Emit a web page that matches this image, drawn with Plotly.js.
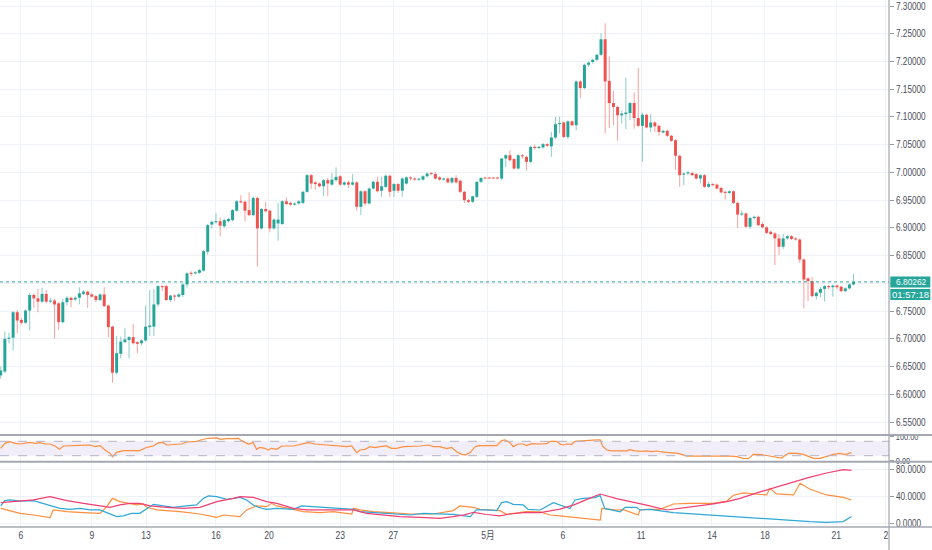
<!DOCTYPE html>
<html>
<head>
<meta charset="utf-8">
<script src="https://cdn.plot.ly/plotly-3.0.1.min.js"></script>
<style>
html,body{margin:0;padding:0;background:#fff;}
#chart{width:932px;height:550px;}
</style>
</head>
<body>
<div id="chart"></div>
<script>
// ---- 4H candles ----
const opens = [
6.634,6.641,6.700,6.702,6.748,6.734,6.729,6.751,6.779,6.773,
6.767,6.781,6.767,6.769,6.764,6.730,6.766,6.774,6.771,6.774,
6.781,6.785,6.780,6.777,6.770,6.780,6.760,6.722,6.639,6.673,
6.694,6.698,6.703,6.694,6.692,6.697,6.721,6.722,6.762,6.795,
6.795,6.770,6.778,6.776,6.779,6.798,6.819,6.818,6.819,6.823,
6.857,6.906,6.910,6.912,6.903,6.912,6.914,6.931,6.948,6.947,
6.932,6.923,6.954,6.899,6.934,6.931,6.899,6.908,6.907,6.948,
6.945,6.942,6.944,6.945,6.965,6.995,6.982,6.980,6.975,6.986,
6.978,6.986,6.993,6.978,6.982,6.978,6.982,6.938,6.966,6.944,
6.971,6.983,6.967,6.974,6.994,6.967,6.979,6.967,6.980,6.991,
6.989,6.987,6.987,6.993,6.998,6.997,6.991,6.987,6.989,6.982,
6.990,6.985,6.965,6.950,6.947,6.956,6.983,6.990,6.990,6.990,
6.990,6.989,7.025,7.031,7.024,7.007,7.031,7.028,7.019,7.046,
7.044,7.045,7.051,7.047,7.063,7.087,7.090,7.064,7.092,7.085,
7.164,7.152,7.194,7.199,7.203,7.212,7.240,7.165,7.125,7.118,
7.103,7.105,7.107,7.125,7.098,7.084,7.104,7.081,7.090,7.084,
7.072,7.075,7.066,7.058,7.030,6.996,6.998,6.999,6.997,6.989,
6.995,6.974,6.979,6.978,6.972,6.965,6.963,6.966,6.945,6.924,
6.926,6.902,6.918,6.920,6.907,6.901,6.893,6.890,6.881,6.866,
6.881,6.885,6.881,6.879,6.843,6.809,6.804,6.777,6.783,6.790,
6.795,6.793,6.796,6.794,6.786,6.791,6.798];
const highs = [
6.650,6.713,6.711,6.750,6.752,6.738,6.753,6.783,6.782,6.790,
6.792,6.788,6.774,6.772,6.766,6.772,6.777,6.776,6.777,6.793,
6.788,6.787,6.782,6.779,6.782,6.793,6.762,6.724,6.705,6.704,
6.719,6.705,6.727,6.696,6.699,6.760,6.788,6.790,6.797,6.797,
6.797,6.779,6.780,6.782,6.800,6.820,6.822,6.822,6.826,6.860,
6.907,6.913,6.926,6.919,6.916,6.918,6.934,6.950,6.959,6.949,
6.964,6.956,6.956,6.936,6.947,6.933,6.917,6.945,6.950,6.955,
6.947,6.946,6.950,6.967,6.997,6.997,6.984,6.982,6.988,6.990,
6.999,7.009,6.995,6.984,6.985,6.997,6.984,6.968,6.968,6.973,
6.985,6.992,6.992,6.996,6.996,6.981,6.981,6.991,6.993,6.993,
6.991,6.990,6.995,7.000,7.000,7.001,6.993,6.990,6.991,6.992,
6.995,6.987,6.967,6.952,6.958,6.984,6.991,6.992,6.991,6.991,
6.991,7.026,7.033,7.040,7.026,7.033,7.033,7.030,7.048,7.050,
7.048,7.053,7.053,7.073,7.100,7.100,7.092,7.094,7.094,7.166,
7.166,7.196,7.200,7.205,7.214,7.251,7.269,7.209,7.147,7.120,
7.112,7.171,7.127,7.144,7.188,7.108,7.106,7.105,7.092,7.086,
7.077,7.077,7.068,7.060,7.032,7.000,7.003,7.001,6.999,6.997,
6.997,6.983,6.981,6.980,6.974,6.967,6.967,6.968,6.947,6.931,
6.928,6.920,6.922,6.922,6.911,6.903,6.895,6.892,6.889,6.889,
6.887,6.887,6.883,6.881,6.845,6.811,6.811,6.785,6.793,6.797,
6.797,6.798,6.798,6.796,6.793,6.800,6.817];
const lows = [
6.628,6.638,6.692,6.679,6.710,6.726,6.727,6.715,6.756,6.748,
6.765,6.764,6.765,6.700,6.716,6.728,6.760,6.757,6.768,6.762,
6.779,6.756,6.774,6.766,6.768,6.757,6.703,6.621,6.636,6.665,
6.692,6.665,6.690,6.674,6.688,6.695,6.705,6.705,6.758,6.786,
6.768,6.766,6.768,6.774,6.775,6.792,6.813,6.816,6.817,6.821,
6.852,6.899,6.908,6.885,6.900,6.910,6.912,6.929,6.944,6.912,
6.921,6.921,6.830,6.897,6.928,6.892,6.897,6.877,6.905,6.941,
6.940,6.940,6.942,6.943,6.963,6.970,6.969,6.973,6.957,6.957,
6.976,6.984,6.976,6.976,6.972,6.976,6.931,6.923,6.940,6.942,
6.969,6.964,6.956,6.972,6.956,6.956,6.963,6.956,6.978,6.985,
6.985,6.985,6.985,6.991,6.995,6.987,6.985,6.985,6.980,6.980,
6.980,6.963,6.945,6.945,6.945,6.954,6.981,6.988,6.988,6.988,
6.988,6.986,7.010,7.020,7.005,7.005,7.025,7.003,7.017,7.041,
7.042,7.043,7.046,7.028,7.060,7.070,7.062,7.060,7.083,7.076,
7.134,7.150,7.190,7.196,7.201,7.210,7.070,7.080,7.085,7.057,
7.088,7.078,7.094,7.079,7.082,7.019,7.079,7.072,7.073,7.066,
7.070,7.064,7.055,7.004,6.974,6.977,6.995,6.993,6.987,6.980,
6.972,6.972,6.975,6.969,6.962,6.951,6.961,6.943,6.900,6.922,
6.900,6.898,6.915,6.903,6.899,6.889,6.887,6.833,6.851,6.862,
6.879,6.878,6.877,6.837,6.755,6.768,6.775,6.771,6.775,6.767,
6.789,6.776,6.790,6.784,6.784,6.789,6.796];
const closes = [
6.643,6.700,6.702,6.748,6.733,6.729,6.751,6.779,6.773,6.767,
6.781,6.767,6.769,6.762,6.730,6.766,6.774,6.770,6.774,6.782,
6.785,6.779,6.776,6.770,6.780,6.759,6.721,6.639,6.674,6.695,
6.699,6.703,6.692,6.691,6.697,6.722,6.724,6.762,6.795,6.793,
6.770,6.778,6.776,6.780,6.798,6.818,6.817,6.820,6.824,6.858,
6.905,6.911,6.912,6.904,6.914,6.916,6.932,6.948,6.946,6.931,
6.923,6.954,6.899,6.934,6.930,6.899,6.915,6.915,6.948,6.943,
6.942,6.944,6.948,6.965,6.995,6.980,6.979,6.975,6.986,6.980,
6.987,6.992,6.978,6.982,6.978,6.982,6.938,6.966,6.944,6.971,
6.983,6.966,6.975,6.994,6.965,6.979,6.967,6.989,6.991,6.989,
6.987,6.988,6.993,6.998,6.997,6.989,6.987,6.989,6.982,6.990,
6.982,6.965,6.950,6.947,6.957,6.983,6.990,6.989,6.989,6.989,
6.989,7.025,7.031,7.022,7.007,7.031,7.029,7.019,7.046,7.044,
7.046,7.051,7.048,7.063,7.087,7.089,7.064,7.092,7.085,7.164,
7.152,7.194,7.198,7.203,7.212,7.240,7.164,7.125,7.118,7.103,
7.106,7.108,7.125,7.098,7.084,7.104,7.081,7.090,7.083,7.073,
7.075,7.066,7.057,7.030,6.995,6.998,7.000,6.995,6.989,6.995,
6.974,6.979,6.977,6.971,6.964,6.963,6.966,6.945,6.924,6.926,
6.902,6.918,6.920,6.905,6.901,6.891,6.889,6.881,6.866,6.881,
6.885,6.880,6.879,6.843,6.807,6.804,6.777,6.783,6.790,6.795,
6.793,6.796,6.793,6.786,6.791,6.798,6.80262];

// ---- axis labels ----
const dayTickIdx  = [4.9, 22, 35.1, 52, 64.8, 82, 94.8, 117.7, 135.8, 154.7, 171.8, 184.6, 201.8, 213.8];
const dayTickText = ['6','9','13','16','20','23','27','5月','6','11','14','18','21','2'];
const priceTicks  = [6.55,6.60,6.65,6.70,6.75,6.80,6.85,6.90,6.95,7.00,7.05,7.10,7.15,7.20,7.25,7.30];
const stochTicks  = [0, 100];
const dmiTicks    = [0, 40, 80];
const timerText = '01:57:18';

// ---- Stoch RSI (K) ----
const stochX = [0,1,2.2,3.5,4.7,5.9,7.1,8.3,9.5,10.7,11.9,13.1,14.2,15.1,16.7,19.2,21.6,22.8,24,25.2,26.4,27,28,29.6,31.6,33.6,35.3,36.9,38.1,39.3,40.1,42.5,43.7,44.9,47.3,49,50.2,52.2,53,54.6,56.2,57.4,58.2,59.8,61,61.8,62.6,63.8,64.6,65.4,66.7,67.9,70.7,73.1,74.3,75.9,78.3,79.9,82,83.6,84.8,86,86.8,88,89.2,90.4,91.6,93.2,94.4,95.6,97.3,98.9,101.3,103.3,104.5,106.1,107.7,108.9,110.1,111.3,112.3,113.4,114.6,115.4,117.4,119.8,121,121.8,123,123.8,125,126.2,127,128.3,130.3,131.9,132.7,134.3,135.1,135.9,136.7,137.9,138.7,139.9,141.1,143.1,144.4,144.8,145.4,146.4,147.6,149.6,151.2,152,153.2,154.8,156,157.2,158.4,160,161.7,163.7,165.7,167.3,168.9,170.5,172.1,174.5,176.2,177.8,179.4,180.6,181.8,183.8,185.4,187,188.6,190.2,192.3,193.9,195.5,196.3,197.9,199.5,201.1,202.7,203.9,205.5];
const stochK = [50.7,71.6,78.6,71.6,68.8,71.6,75.8,71.6,74.4,68.8,68.8,60.5,46.5,60.5,60.5,63.3,64.6,57.7,61.9,43.7,29.8,15.8,34,41,41,41,55,60.5,74.4,74.4,64.6,66,68.8,77.2,80,88.4,92.6,94,88.4,91.2,92.6,92.6,82.8,68.8,74.4,46.5,55,50.7,43.7,50.7,46.5,60.5,60.5,68.8,74.4,68.8,66,64.6,60.5,57.7,60.5,32.6,43.7,46.5,57.7,53.5,57.7,60.5,50.7,50.7,57.7,57.7,60.5,64.6,57.7,57.7,49.3,55,36.7,25.6,23.5,33,57.7,61.9,61.9,61.9,82.8,85.6,74.4,57.7,68.8,68.8,61.9,70.2,68.8,70,80,80,68,64.6,68.8,67.5,80,82,84,85,85.6,85.6,60,43.7,40,40,40,45.4,40,38,40,36.7,39.5,35.3,32,29.8,18.6,18.6,18.6,21.4,18.6,21.4,18.6,15.8,8.8,7.4,25.6,24.2,19.9,17.2,10.2,29.8,29.8,25.6,13,8.8,8.8,18.6,25.6,29.8,24.2,32.6,43.7];

// ---- DMI / ADX ----
const adxX = [0,4.7,7.9,11.9,16,20,24,26.4,28.8,31.2,33.6,36.1,40.1,44.1,48.1,52.2,56.2,57.8,61,64.2,66.7,70.7,73.9,80.3,85.2,88.4,92.4,96.4,101.3,106.1,109.3,112,114.2,117.4,120.6,123,127,130.3,135.1,138.3,141.5,144.8,148.8,152.8,156,160.9,163.3,167.3,171.3,175.4,178.6,183.4,187.4,191.5,195.5,199.5,203.5,205.5];
const adxV = [30.6,33,34.6,39.5,33.6,29.6,25.7,23.7,27.2,29.6,29.6,25.7,23.7,22.2,23.7,32.1,37,39.5,38.5,32.1,29.6,22.2,19.8,19.8,19.8,14.8,12.3,9.9,8.9,7.4,9.9,12.5,16.3,13,11,13.8,16.3,15.7,21,27,35,43.4,36.5,31.5,27,19.7,21.5,24.5,28,32,37,46.5,54,61.5,68.5,74.5,79.5,78.5];
const plusDiX = [0,1,2.2,4.7,7.9,10.3,12.7,14.3,16.7,19.2,21.6,24,25.6,28,29.6,31.6,33.6,35.3,36.9,39.3,41.7,44.9,47.3,49,50.2,52.2,54.6,56.2,57.8,59.4,61,62.2,64.2,66.7,70.7,72.7,75.5,78.7,82.8,85.2,86.8,90,94,98.9,102.1,105.3,109.3,113.4,114.9,117.4,119.8,121,122.2,123.8,126.2,127.4,130.3,133.5,135.9,137.5,138.7,140.7,143.5,144.8,145.9,149.6,150.8,153.6,154.4,156.8,162.5,166.5,170.5,174.5,178.6,181.8,185.8,189.8,195.5,199.5,203.5,205.5];
const plusDiV = [25.7,33.6,34.6,33,33.6,29.6,25.7,22.2,20.7,22.2,19.8,19.8,15.8,9.9,10.9,14.8,14.8,22.2,28.1,25.7,23.7,25.7,27.2,37,40.5,39.5,35.6,37,38.5,34.6,27.2,23.7,20.7,22.2,20.7,25.7,24.7,23.7,22.2,20.7,17.3,15.8,13.8,12.3,14.8,13.8,13.3,9.9,19.8,19.8,18.8,30.6,32.1,28.1,27.2,20.7,19.7,30.5,24.7,22,34.5,37,38,41,22,17,23.7,23.7,19.7,20.7,15.7,14,12.4,10.5,9,8.4,5.9,4.9,2.5,1.5,2.5,9.9];
const minusDiX = [0,2.2,4.7,7.9,11.9,12.7,16,20,24,25.6,27,28.8,31.2,32.8,34.5,35.3,37.7,40.1,43.3,48.1,52.2,53.8,56.2,57.8,59.4,61.8,64.2,65.4,66.7,70.7,73.1,77.1,80.3,84.8,85.2,86.8,90,94,98.9,104.5,107.7,109.3,110.9,113.4,114.2,115.8,119,120.6,122.2,124.6,127,130.3,132.7,135.1,138.3,141.5,144.8,145.2,148.8,150.4,154,154.4,156,159.2,162.5,166,172.1,175.4,177,179.4,181.8,185,185.8,187.4,191.5,193.1,195.5,199.5,203.5,205.5];
const minusDiV = [22.2,18.8,14.8,12.3,8.4,19.8,17.3,15.8,14.8,24.7,37,32.1,28.6,27.2,28.6,23.7,19.8,18.8,17.3,13.8,8.9,12.3,10.9,9.9,19.8,25.7,24.7,29.6,25.7,19.8,17.3,15.8,17.3,13.8,22.2,19.8,17.3,15.8,13.8,13.8,17.3,18.8,25.7,23.7,23.7,20.7,18.8,18.8,13.3,15.8,17.3,17,12.3,11,8.9,7.5,4.9,22,19.7,20.2,12.3,19.7,20.7,20.7,28.6,29.6,29.6,33,41.5,45,43.5,42,51.8,43.5,42,59.3,50.4,42,38.5,34.6];

// ---- styles ----
const UP = '#26a69a', DOWN = '#ef5350';
const UPW = 'rgba(38,166,154,0.55)', DOWNW = 'rgba(239,83,80,0.55)';
const GRID = '#eef1f6';
const TXT = '#4a4e59';
const FONT = 'Liberation Sans, Noto Sans CJK SC, sans-serif';
const SQUEEZE = 0.82;

const idx = opens.map((_, i) => i);
const isUp = idx.map(i => closes[i] >= opens[i]);

function wickTrace(up) {
  const xs = [], ys = [];
  idx.forEach(i => {
    if (isUp[i] === up) { xs.push(i, i, null); ys.push(lows[i], highs[i], null); }
  });
  return {type:'scatter', mode:'lines', x:xs, y:ys, xaxis:'x', yaxis:'y',
          line:{color: up ? UPW : DOWNW, width:1}, hoverinfo:'skip', showlegend:false};
}
const minBody = 0.0018;
const bodyBase = idx.map(i => Math.min(opens[i], closes[i]));
const bodyH = idx.map(i => Math.max(Math.abs(closes[i] - opens[i]), minBody));
const bodies = {type:'bar', x:idx, base:bodyBase, y:bodyH, width:0.72, xaxis:'x', yaxis:'y',
  marker:{color: idx.map(i => isUp[i] ? UP : DOWN), line:{width:0}}, hoverinfo:'skip', showlegend:false};

const stochTrace = {type:'scatter', mode:'lines', x:stochX, y:stochK, xaxis:'x2', yaxis:'y2',
  line:{color:'#ff8f3f', width:1.2}, hoverinfo:'skip', showlegend:false};
const adxTrace = {type:'scatter', mode:'lines', x:adxX, y:adxV, xaxis:'x3', yaxis:'y3',
  line:{color:'#f23f72', width:1.2}, hoverinfo:'skip', showlegend:false};
const pdiTrace = {type:'scatter', mode:'lines', x:plusDiX, y:plusDiV, xaxis:'x3', yaxis:'y3',
  line:{color:'#2fa8d5', width:1.2}, hoverinfo:'skip', showlegend:false};
const mdiTrace = {type:'scatter', mode:'lines', x:minusDiX, y:minusDiV, xaxis:'x3', yaxis:'y3',
  line:{color:'#ff8f3f', width:1.2}, hoverinfo:'skip', showlegend:false};

const lastClose = closes[closes.length - 1];
// the price scale hides tick labels that sit under the last-price badge
const priceTickText = priceTicks.map(v => Math.abs(v - lastClose) < 0.012 ? '' : v.toFixed(5));

const XR = [-0.17, 214.56];
const yFont = {family: FONT, size: 10, color: TXT};
const y2Font = {family: FONT, size: 9, color: TXT};
const xFont = {family: FONT, size: 10.5, color: TXT};

const baseX = {type:'linear', range:XR, tickvals:dayTickIdx, ticktext:dayTickText, showgrid:true, gridcolor:GRID,
  gridwidth:1, zeroline:false, showline:false, ticks:'', fixedrange:true};
const baseY = {side:'right', ticks:'outside', ticklen:4, tickcolor:'#9598a1', tickfont:yFont,
  zeroline:false, showline:false, fixedrange:true, ticklabeloverflow:'allow'};

const layout = {
  width:932, height:550, margin:{l:0, r:43, t:0, b:23},
  paper_bgcolor:'#ffffff', plot_bgcolor:'#ffffff',
  barmode:'overlay', showlegend:false, font:{family:FONT, color:TXT},
  xaxis: Object.assign({}, baseX, {anchor:'y', showticklabels:false}),
  xaxis2: Object.assign({}, baseX, {anchor:'y2', showticklabels:false}),
  xaxis3: Object.assign({}, baseX, {anchor:'y3', showticklabels:true, tickfont:xFont, ticklabeloverflow:'allow'}),
  yaxis: Object.assign({}, baseY, {domain:[0.17457, 1], range:[6.52661, 7.31082], anchor:'x',
    tickvals:priceTicks, ticktext:priceTickText, showgrid:true, gridcolor:GRID}),
  yaxis2: Object.assign({}, baseY, {domain:[0.12391, 0.17457], range:[-5, 106.25], anchor:'x2', tickvals:stochTicks,
    tickformat:'.2f', showgrid:false, tickfont:y2Font}),
  yaxis3: Object.assign({}, baseY, {domain:[0, 0.12391], range:[-5.5, 91.3], anchor:'x3', tickvals:dmiTicks,
    tickformat:'.4f', showgrid:true, gridcolor:GRID}),
  shapes: [
    // Stoch band
    {type:'rect', xref:'x2 domain', yref:'y2', x0:0, x1:1, y0:20, y1:80, fillcolor:'rgba(126,87,194,0.10)', line:{width:0}, layer:'below'},
    {type:'line', xref:'x2 domain', yref:'y2', x0:0, x1:1, y0:80, y1:80, line:{color:'#b6b3c2', width:1, dash:'dash'}},
    {type:'line', xref:'x2 domain', yref:'y2', x0:0, x1:1, y0:20, y1:20, line:{color:'#b6b3c2', width:1, dash:'dash'}},
    // last price line
    {type:'line', xref:'x domain', yref:'y', x0:0, x1:1, y0:lastClose, y1:lastClose, line:{color:UP, width:1, dash:'dot'}},
    // last price + countdown badges
    {type:'rect', xref:'paper', x0:1.0015, x1:1.0465, yref:'y', ysizemode:'pixel', yanchor:lastClose, y0:-5.5, y1:5.5,
      fillcolor:UP, line:{width:0}},
    {type:'rect', xref:'paper', x0:1.0015, x1:1.0465, yref:'y', ysizemode:'pixel', yanchor:lastClose, y0:-18, y1:-7,
      fillcolor:UP, line:{width:0}},
    // price scale border
    {type:'line', xref:'paper', yref:'paper', x0:1, x1:1, y0:-0.05, y1:1, line:{color:'#8f929b', width:1}},
    // pane separators
    {type:'line', xref:'paper', yref:'paper', x0:0, x1:1.05, y0:0.17457, y1:0.17457, line:{color:'#a5a8b0', width:2}},
    {type:'line', xref:'paper', yref:'paper', x0:0, x1:1.05, y0:0.12391, y1:0.12391, line:{color:'#a5a8b0', width:2}},
    {type:'line', xref:'paper', yref:'paper', x0:0, x1:1.05, y0:0, y1:0, line:{color:'#a5a8b0', width:1.5}}
  ],
  annotations: [
    {xref:'paper', yref:'y', x:1, y:lastClose, xanchor:'left', yanchor:'middle', xshift:4, showarrow:false,
      text:lastClose.toFixed(5), borderpad:0, font:{family:FONT, size:9.5, color:'#ffffff'}},
    {xref:'paper', yref:'y', x:1, y:lastClose, xanchor:'left', yanchor:'middle', xshift:2, yshift:-12.5, showarrow:false,
      text:timerText, borderpad:0, font:{family:FONT, size:9.5, color:'#ffffff'}}
  ]
};

function squeeze(t, k) {
  const L = t.getComputedTextLength();
  if (L > 0) {
    t.setAttribute('textLength', (L * k).toFixed(2));
    t.setAttribute('lengthAdjust', 'spacingAndGlyphs');
  }
}

Plotly.newPlot('chart', [wickTrace(true), wickTrace(false), bodies, stochTrace, mdiTrace, pdiTrace, adxTrace], layout,
  {staticPlot:true, displayModeBar:false}).then(gd => {
    gd.querySelectorAll('.ytick text, .y2tick text, .y3tick text, .x3tick text').forEach(t => squeeze(t, SQUEEZE));
    const ann = gd.querySelectorAll('.annotation-text');
    if (ann.length) squeeze(ann[0], 0.88);
  });
</script>
</body>
</html>
